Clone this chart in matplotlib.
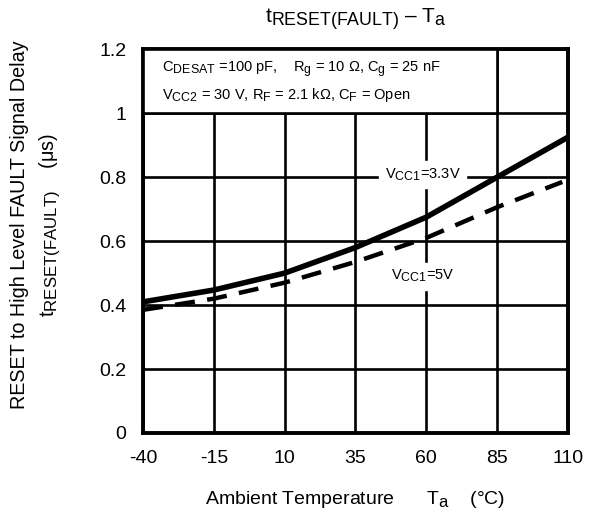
import matplotlib
matplotlib.use("Agg")
import matplotlib.pyplot as plt
import matplotlib._mathtext as mathtext
from matplotlib.patches import Rectangle

plt.rcParams['font.family'] = ['Liberation Sans', 'DejaVu Sans']
plt.rcParams['mathtext.fontset'] = 'custom'
plt.rcParams['mathtext.rm'] = 'Liberation Sans'
plt.rcParams['mathtext.it'] = 'Liberation Sans'
plt.rcParams['axes.unicode_minus'] = False
# subscripts in the datasheet are only a bit smaller than the main text
mathtext.SHRINK_FACTOR = 0.85

# data
temp = [-40, -15, 10, 35, 60, 85, 110]
delay_33v = [0.41, 0.447, 0.50, 0.58, 0.675, 0.80, 0.925]
temp_5v = [-40, -15, 10, 35, 60, 85, 108]
delay_5v = [0.385, 0.42, 0.47, 0.535, 0.61, 0.706, 0.785]
xticks = [-40, -15, 10, 35, 60, 85, 110]
yticks = [0, 0.2, 0.4, 0.6, 0.8, 1.0, 1.2]
ytick_labels = ["0", "0.2", "0.4", "0.6", "0.8", "1", "1.2"]

fig = plt.figure(figsize=(5.91, 5.13), dpi=100)
ax = fig.add_axes([0.242, 0.156, 0.719, 0.748])

ax.plot(temp, delay_33v, color='black', lw=4.0, solid_capstyle='butt', zorder=4)
ax.plot(temp_5v, delay_5v, color='black', lw=3.2, ls=(0, (4.5, 2.8)), zorder=4)

ax.set_xlim(-40, 110)
ax.set_ylim(0, 1.2)
ax.set_xticks(xticks)
ax.set_yticks(yticks)
ax.set_yticklabels(ytick_labels)
ax.tick_params(length=0, labelsize=14)
ax.tick_params(axis='y', pad=12)
ax.tick_params(axis='x', pad=12)
ax.grid(True, color='black', lw=1.9)
ax.set_axisbelow(True)
for s in ax.spines.values():
    s.set_linewidth(2.8)

box = Rectangle((-40, 1.0), 125, 0.2, facecolor='white', edgecolor='black', lw=1.9, zorder=3)
ax.add_patch(box)
ax.text(-33.3, 1.138, r"C$_{\mathregular{DESAT}}$ =100 pF,    R$_{\mathregular{g}}$ = 10 $\Omega$, C$_{\mathregular{g}}$ = 25 nF",
        fontsize=10.5, va='center', zorder=5)
ax.text(-33.3, 1.058, r"V$_{\mathregular{CC2}}$ = 30 V, R$_{\mathregular{F}}$ = 2.1 k$\Omega$, C$_{\mathregular{F}}$ = Open",
        fontsize=10.5, va='center', zorder=5)

ax.text(58.8, 0.808, r"V$_{\mathregular{CC1}}$=3.3V", fontsize=10.5, ha='center', va='center',
        backgroundcolor='white', zorder=3)
ax.text(58.8, 0.49, r"V$_{\mathregular{CC1}}$=5V", fontsize=10.5, ha='center', va='center',
        backgroundcolor='white', zorder=3)

ax.set_title(r"t$_{\mathregular{RESET(FAULT)}}$ – T$_{\mathregular{a}}$", fontsize=15, pad=19)
ax.set_xlabel(r"Ambient Temperature      T$_{\mathregular{a}}$    (°C)", fontsize=14, labelpad=16)
ax.set_ylabel("RESET to High Level FAULT Signal Delay\n" + r"t$_{\mathregular{RESET(FAULT)}}$    (μs)",
              fontsize=14.2, linespacing=1.45)
ax.yaxis.set_label_coords(-0.191, 0.542)

fig.savefig("out.png", dpi=100)
